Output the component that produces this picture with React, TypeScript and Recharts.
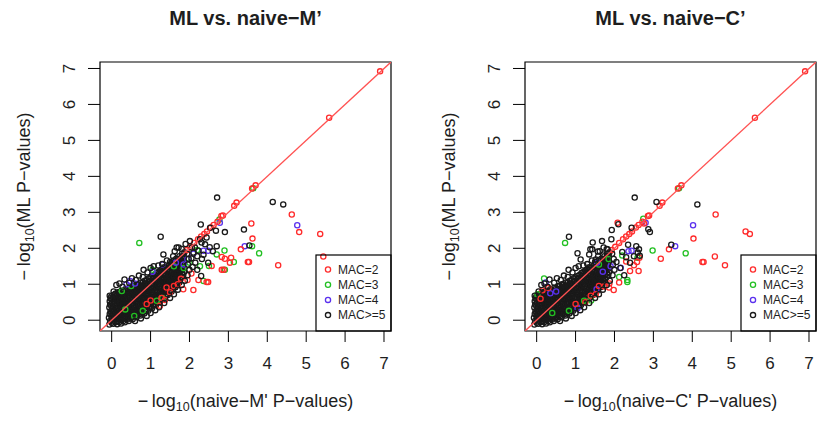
import React from 'react';
import { ScatterChart, Scatter, XAxis, YAxis, ReferenceArea } from 'recharts';

const FONT = "'Liberation Sans', Arial, Helvetica, sans-serif";
const INK = '#1e1e1e';

const axisTicks = [0, 1, 2, 3, 4, 5, 6, 7];
const axisDomain: [number, number] = [-0.3, 7.18];
const macLabels = ['MAC=2', 'MAC=3', 'MAC=4', 'MAC>=5'];
const macColors = ['#ff2b2b', '#22c022', '#5a30ee', '#1a1a1a'];
const lineColor = '#ff5252';

// y = x reference line, corner to corner of the plot region
const diagonal = [
  [-0.3, -0.3],
  [7.18, 7.18],
];

// dense black core near the origin (same in both panels)
const coreCloud = [
  [-0.06, -0.12], [-0.04, -0.02], [-0.07, 0.07], [-0.05, 0.17], [-0.03, 0.25], [-0.06, 0.35], [-0.04, 0.44], [-0.05, 0.53], [-0.03, 0.61],
  [0.04, -0.1], [0.06, -0.01], [0.05, 0.09], [0.03, 0.18], [0.06, 0.27], [0.04, 0.37], [0.05, 0.45], [0.07, 0.55], [0.04, 0.63], [0.06, 0.71],
  [0.14, -0.11], [0.16, -0.03], [0.15, 0.07], [0.13, 0.16], [0.16, 0.26], [0.15, 0.34], [0.14, 0.44], [0.17, 0.53], [0.15, 0.61], [0.14, 0.7], [0.16, 0.78],
  [0.24, -0.09], [0.26, 0.01], [0.25, 0.1], [0.23, 0.19], [0.26, 0.29], [0.24, 0.37], [0.25, 0.47], [0.27, 0.55], [0.24, 0.64], [0.26, 0.73], [0.25, 0.82],
  [0.34, -0.06], [0.36, 0.04], [0.35, 0.12], [0.33, 0.22], [0.36, 0.31], [0.34, 0.41], [0.35, 0.49], [0.37, 0.58], [0.34, 0.68], [0.36, 0.77], [0.35, 0.86],
  [0.44, -0.02], [0.46, 0.07], [0.45, 0.17], [0.43, 0.25], [0.46, 0.35], [0.44, 0.43], [0.45, 0.53], [0.47, 0.62], [0.44, 0.71], [0.46, 0.81], [0.45, 0.9],
  [0.54, 0.03], [0.56, 0.12], [0.55, 0.22], [0.53, 0.3], [0.56, 0.4], [0.54, 0.48], [0.55, 0.58], [0.57, 0.67], [0.54, 0.76], [0.56, 0.86], [0.55, 0.95],
  [0.64, 0.08], [0.66, 0.18], [0.65, 0.26], [0.63, 0.36], [0.66, 0.45], [0.64, 0.54], [0.65, 0.63], [0.67, 0.73], [0.64, 0.82], [0.66, 0.91], [0.65, 1.0],
  [0.74, 0.13], [0.76, 0.22], [0.75, 0.32], [0.73, 0.41], [0.76, 0.49], [0.74, 0.59], [0.75, 0.68], [0.77, 0.77], [0.74, 0.87], [0.76, 0.96], [0.75, 1.05],
  [0.84, 0.19], [0.86, 0.29], [0.85, 0.37], [0.83, 0.47], [0.86, 0.56], [0.84, 0.64], [0.85, 0.74], [0.87, 0.83], [0.84, 0.92], [0.86, 1.02], [0.85, 1.1],
  [0.94, 0.26], [0.96, 0.35], [0.95, 0.45], [0.93, 0.53], [0.96, 0.62], [0.94, 0.72], [0.95, 0.8], [0.97, 0.9], [0.94, 0.98], [0.96, 1.08], [0.95, 1.16],
  [1.04, 0.33], [1.06, 0.43], [1.05, 0.51], [1.03, 0.6], [1.06, 0.7], [1.04, 0.78], [1.05, 0.88], [1.07, 0.96], [1.04, 1.05], [1.06, 1.15], [1.05, 1.23],
  [1.14, 0.42], [1.16, 0.51], [1.15, 0.61], [1.13, 0.69], [1.16, 0.78], [1.14, 0.88], [1.15, 0.96], [1.17, 1.06], [1.14, 1.14], [1.16, 1.23], [1.15, 1.31],
  [1.24, 0.5], [1.26, 0.6], [1.25, 0.68], [1.23, 0.77], [1.26, 0.87], [1.24, 0.95], [1.25, 1.05], [1.27, 1.13], [1.24, 1.22], [1.26, 1.32], [1.25, 1.38],
  [1.34, 0.6], [1.36, 0.69], [1.35, 0.79], [1.33, 0.87], [1.36, 0.96], [1.34, 1.06], [1.35, 1.14], [1.37, 1.24], [1.34, 1.32], [1.36, 1.41], [1.35, 1.47],
  [1.44, 0.7], [1.46, 0.79], [1.45, 0.89], [1.43, 0.97], [1.46, 1.06], [1.44, 1.16], [1.45, 1.24], [1.47, 1.34], [1.44, 1.42], [1.46, 1.51],
  [1.54, 0.8], [1.56, 0.9], [1.55, 0.98], [1.53, 1.07], [1.56, 1.17], [1.54, 1.25], [1.55, 1.35], [1.57, 1.43], [1.54, 1.52], [1.56, 1.6],
  [1.64, 0.92], [1.66, 1.01], [1.65, 1.11], [1.63, 1.19], [1.66, 1.28], [1.64, 1.38], [1.65, 1.46], [1.67, 1.56], [1.64, 1.64], [1.66, 1.71],
  [1.74, 1.05], [1.76, 1.14], [1.75, 1.24], [1.73, 1.32], [1.76, 1.41], [1.74, 1.51], [1.75, 1.59], [1.77, 1.69], [1.74, 1.78],
  [1.84, 1.25], [1.86, 1.34], [1.85, 1.44], [1.83, 1.52], [1.86, 1.61], [1.84, 1.71], [1.85, 1.79], [1.87, 1.89],
];

// second layer of the core, sitting in the gaps of the first
const coreCloudB = [
  [0.0, -0.07], [0.01, 0.03], [-0.01, 0.12], [0.0, 0.22], [0.02, 0.31], [-0.01, 0.4], [0.01, 0.49], [0.0, 0.58], [-0.01, 0.66],
  [0.1, -0.06], [0.11, 0.04], [0.09, 0.12], [0.1, 0.21], [0.12, 0.31], [0.09, 0.39], [0.1, 0.49], [0.11, 0.57], [0.09, 0.66], [0.1, 0.74],
  [0.2, -0.05], [0.21, 0.05], [0.19, 0.14], [0.2, 0.22], [0.22, 0.31], [0.19, 0.41], [0.2, 0.5], [0.21, 0.58], [0.19, 0.68], [0.2, 0.77],
  [0.3, -0.02], [0.31, 0.08], [0.29, 0.16], [0.3, 0.26], [0.32, 0.35], [0.29, 0.44], [0.3, 0.53], [0.31, 0.62], [0.29, 0.71], [0.3, 0.8],
  [0.4, 0.02], [0.41, 0.11], [0.39, 0.2], [0.4, 0.29], [0.42, 0.38], [0.39, 0.47], [0.4, 0.56], [0.41, 0.66], [0.39, 0.75], [0.4, 0.84],
  [0.5, 0.06], [0.51, 0.15], [0.49, 0.25], [0.5, 0.34], [0.52, 0.43], [0.49, 0.52], [0.5, 0.61], [0.51, 0.71], [0.49, 0.8], [0.5, 0.89],
  [0.6, 0.1], [0.61, 0.2], [0.59, 0.29], [0.6, 0.39], [0.62, 0.48], [0.59, 0.57], [0.6, 0.67], [0.61, 0.76], [0.59, 0.85], [0.6, 0.95],
  [0.7, 0.16], [0.71, 0.25], [0.69, 0.34], [0.7, 0.44], [0.72, 0.53], [0.69, 0.62], [0.7, 0.72], [0.71, 0.81], [0.69, 0.9], [0.7, 0.99],
  [0.8, 0.22], [0.81, 0.31], [0.79, 0.41], [0.8, 0.5], [0.82, 0.59], [0.79, 0.69], [0.8, 0.78], [0.81, 0.87], [0.79, 0.96], [0.8, 1.05],
  [0.9, 0.28], [0.91, 0.38], [0.89, 0.47], [0.9, 0.56], [0.92, 0.66], [0.89, 0.75], [0.9, 0.84], [0.91, 0.93], [0.89, 1.02], [0.9, 1.11],
  [1.0, 0.36], [1.01, 0.45], [0.99, 0.54], [1.0, 0.64], [1.02, 0.73], [0.99, 0.82], [1.0, 0.91], [1.01, 1.0], [0.99, 1.1], [1.0, 1.19],
  [1.1, 0.44], [1.11, 0.53], [1.09, 0.62], [1.1, 0.71], [1.12, 0.8], [1.09, 0.9], [1.1, 0.99], [1.11, 1.08], [1.09, 1.18], [1.1, 1.26],
  [1.2, 0.52], [1.21, 0.61], [1.19, 0.7], [1.2, 0.8], [1.22, 0.89], [1.19, 0.98], [1.2, 1.08], [1.21, 1.17], [1.19, 1.27], [1.2, 1.34],
  [1.3, 0.6], [1.31, 0.7], [1.29, 0.79], [1.3, 0.88], [1.32, 0.98], [1.29, 1.07], [1.3, 1.16], [1.31, 1.26], [1.29, 1.35], [1.3, 1.42],
  [1.4, 0.71], [1.41, 0.8], [1.39, 0.9], [1.4, 0.99], [1.42, 1.08], [1.39, 1.18], [1.4, 1.27], [1.41, 1.36], [1.39, 1.45],
  [1.5, 0.82], [1.51, 0.91], [1.49, 1.0], [1.5, 1.1], [1.52, 1.19], [1.49, 1.28], [1.5, 1.38], [1.51, 1.47], [1.49, 1.55],
  [1.6, 0.93], [1.61, 1.02], [1.59, 1.12], [1.6, 1.21], [1.62, 1.3], [1.59, 1.4], [1.6, 1.49], [1.61, 1.58], [1.59, 1.66],
  [1.7, 1.05], [1.71, 1.14], [1.69, 1.24], [1.7, 1.33], [1.72, 1.42], [1.69, 1.52], [1.7, 1.61], [1.71, 1.7],
  [1.8, 1.2], [1.81, 1.3], [1.79, 1.39], [1.8, 1.48], [1.82, 1.58], [1.79, 1.67], [1.8, 1.76], [1.81, 1.85],
];

// loose black circles around the edge of the core
const fringeBlack = [
  [-0.05, 0.68], [0.05, 0.8], [0.12, 0.98], [0.2, 1.02], [0.28, 0.93], [0.33, 1.13], [0.45, 1.04], [0.52, 1.17],
  [0.62, 1.12], [0.7, 1.24], [0.8, 1.2], [0.82, 1.4], [0.92, 1.33], [1.0, 1.45], [1.08, 1.5], [1.2, 1.52],
  [1.3, 1.56], [1.42, 1.66], [1.5, 1.62], [1.58, 1.78], [1.62, 1.92], [1.72, 2.02], [1.8, 1.98],
  [0.6, -0.02], [0.75, 0.05], [0.9, 0.12], [1.0, 0.2], [1.12, 0.28], [1.22, 0.36], [1.35, 0.48], [1.5, 0.62],
  [1.6, 0.72], [1.7, 0.85], [1.8, 0.98], [1.88, 1.1], [1.95, 1.25], [2.0, 1.4], [1.96, 1.55], [1.98, 1.7], [1.94, 1.85],
];

// ---- ML vs. naive-M'
const leftMac2 = [
  [6.9, 6.92], [5.59, 5.63], [3.7, 3.75], [3.61, 3.66], [3.21, 3.27], [3.15, 3.18], [2.82, 2.9], [2.86, 2.91],
  [2.72, 2.74], [2.62, 2.65], [2.55, 2.58], [2.45, 2.47], [2.38, 2.4], [2.3, 2.33], [2.22, 2.25], [2.12, 2.15],
  [2.02, 2.04], [1.93, 1.95],
  [4.63, 2.94], [4.82, 2.45], [5.36, 2.4], [5.44, 1.77], [4.28, 1.53], [3.59, 2.69], [3.62, 2.27], [3.32, 1.97],
  [3.5, 1.62], [3.53, 1.62], [3.07, 1.74], [3.04, 1.6], [2.91, 1.71], [2.83, 1.76], [2.83, 1.4], [2.88, 1.4],
  [2.57, 1.51], [2.48, 1.06], [2.23, 1.12], [2.44, 1.06], [2.1, 0.84], [1.84, 0.86],
  [1.37, 0.56], [1.24, 0.4], [1.5, 0.78], [1.41, 0.91], [1.7, 1.0], [1.95, 1.12], [1.6, 0.95], [1.0, 0.55],
  [0.9, 0.45], [1.28, 0.62], [1.78, 1.15], [2.05, 1.3],
];
const leftMac3 = [
  [3.64, 3.67], [2.77, 2.8], [0.71, 2.15], [3.61, 2.06], [3.79, 1.86], [3.14, 1.62], [2.9, 1.94], [2.91, 1.4],
  [2.5, 1.51], [2.27, 1.5], [2.36, 1.09], [2.7, 1.83],
  [0.26, 0.81], [0.5, 0.95], [1.05, 1.4], [1.6, 1.5], [1.85, 1.45], [2.0, 1.6], [0.8, 0.26], [1.16, 0.54],
  [0.58, 0.12], [2.2, 1.95], [1.3, 0.62], [0.35, 0.3],
];
const leftMac4 = [
  [4.77, 2.64], [3.42, 2.06], [2.78, 2.71], [2.36, 1.93], [2.48, 1.93], [1.85, 1.55], [0.47, 1.09], [0.38, 1.0],
  [1.05, 1.35], [1.3, 1.55], [1.65, 1.6], [2.1, 1.85], [1.95, 1.7], [0.6, 1.02],
];
const leftMac5 = [
  [2.71, 3.41], [4.14, 3.29], [4.41, 3.22], [3.4, 2.52], [3.54, 2.08], [2.91, 2.45], [2.68, 2.49], [2.53, 2.57],
  [2.29, 2.66], [1.26, 2.32], [2.3, 1.23], [2.44, 2.3], [2.27, 2.25], [2.06, 2.02], [2.7, 2.06], [2.48, 1.6],
  [2.01, 2.2], [2.14, 2.02], [2.23, 1.93], [2.31, 2.16], [2.4, 2.11], [2.1, 1.88], [2.2, 1.78], [2.05, 1.72],
  [2.32, 1.7], [2.15, 1.6], [2.08, 1.48], [2.2, 1.4], [1.67, 2.02], [1.33, 1.83], [1.9, 2.12], [2.36, 1.82],
  [2.6, 1.92], [2.52, 2.03],
];

// ---- ML vs. naive-C'
const rightMac2 = [
  [6.9, 6.92], [5.61, 5.63], [3.72, 3.75], [3.63, 3.66], [3.23, 3.27], [3.16, 3.18], [2.86, 2.9], [2.89, 2.91],
  [2.76, 2.69], [2.72, 2.74], [2.62, 2.65], [2.55, 2.58], [2.45, 2.47], [2.38, 2.4], [2.3, 2.33], [2.22, 2.25],
  [2.12, 2.15], [2.02, 2.04], [1.93, 1.95], [2.08, 2.71],
  [4.6, 2.94], [4.03, 2.27], [5.37, 2.47], [5.48, 2.4], [4.58, 1.77], [4.84, 1.53], [4.26, 1.62], [4.29, 1.62],
  [3.19, 1.71], [3.4, 1.97], [2.5, 1.53], [2.62, 1.37], [2.58, 1.62], [2.64, 1.74], [2.3, 1.63], [2.4, 1.37],
  [1.98, 0.84], [1.74, 0.94], [1.87, 1.02], [2.12, 1.05], [1.86, 0.91], [1.52, 0.72], [1.39, 0.68], [0.15, 0.83],
  [0.3, 0.9], [1.6, 0.95], [1.25, 0.5], [1.0, 0.45], [0.1, 0.6],
];
const rightMac3 = [
  [3.66, 3.67], [2.74, 2.82], [0.73, 2.15], [2.98, 1.94], [3.83, 1.86], [2.33, 1.06], [2.33, 1.12], [0.83, 0.26],
  [1.22, 0.54], [0.19, 1.16], [0.02, 0.72], [2.2, 1.8], [1.6, 1.55], [2.12, 1.2], [1.85, 1.7], [2.59, 1.74],
  [0.4, 0.2], [1.4, 0.55],
];
const rightMac4 = [
  [4.02, 2.64], [3.56, 2.06], [2.8, 2.71], [1.05, 0.33], [1.54, 0.86], [0.23, 1.05], [0.35, 0.75], [0.5, 0.8],
  [1.55, 1.6], [1.9, 1.5], [2.44, 1.93], [2.36, 1.92], [2.16, 1.46], [1.7, 1.35],
];
const rightMac5 = [
  [2.52, 3.41], [3.08, 3.29], [4.13, 3.22], [3.46, 2.1], [2.87, 2.53], [2.91, 2.45], [2.44, 2.57], [2.1, 2.67],
  [1.93, 2.51], [1.68, 2.2], [1.44, 2.16], [1.38, 1.97], [1.57, 1.91], [0.83, 2.32], [1.05, 1.86], [1.13, 1.69],
  [1.35, 1.83], [1.43, 1.97], [1.52, 1.69], [1.71, 1.83], [1.82, 1.97], [1.92, 2.25], [2.25, 1.25], [2.56, 2.06],
  [2.63, 1.97], [2.65, 1.79], [2.6, 1.88], [2.2, 1.9], [2.3, 1.75], [2.05, 1.62], [2.15, 1.45], [2.35, 2.1],
  [2.5, 1.78], [2.4, 1.6],
];

const toPts = (arr: number[][]) => arr.map(([x, y]) => ({ x, y }));

const ring = (color: string) => (p: any) =>
  p.cx == null ? <g /> : <circle cx={p.cx} cy={p.cy} r={2.6} fill="none" stroke={color} strokeWidth={1.3} />;

const XTick = (p: any) => (
  <text x={p.x} y={p.y} textAnchor="middle" fontSize={17} fontFamily={FONT} fill={INK}>
    {p.payload.value}
  </text>
);

const YTick = (p: any) => (
  <text
    x={p.x}
    y={p.y}
    transform={`rotate(-90 ${p.x} ${p.y})`}
    textAnchor="middle"
    fontSize={17}
    fontFamily={FONT}
    fill={INK}
  >
    {p.payload.value}
  </text>
);

interface PanelProps {
  left: number;
  width: number;
  axisW: number;
  title: string;
  xName: string;
  series: number[][][];
}

const TOP = 62;
const PLOT_W = 291;
const PLOT_BOTTOM = 331;

function Panel({ left, width, axisW, title, xName, series }: PanelProps) {
  const plotL = axisW;
  const plotR = axisW + PLOT_W;
  const cx = plotL + PLOT_W / 2;
  const cy = (TOP + PLOT_BOTTOM) / 2;
  const legX = plotR - 75;
  const legY = 255;

  return (
    <div style={{ position: 'absolute', left, top: 0, width, height: 421 }}>
      <ScatterChart
        width={width}
        height={421}
        margin={{ top: TOP, right: width - plotR, bottom: 0, left: 0 }}
      >
        <XAxis
          type="number"
          dataKey="x"
          domain={axisDomain}
          ticks={axisTicks}
          allowDataOverflow
          height={421 - PLOT_BOTTOM}
          axisLine={false}
          tickLine={{ stroke: '#000' }}
          tickSize={11}
          tickMargin={27}
          tick={<XTick />}
        />
        <YAxis
          type="number"
          dataKey="y"
          domain={axisDomain}
          ticks={axisTicks}
          allowDataOverflow
          width={axisW}
          axisLine={false}
          tickLine={{ stroke: '#000' }}
          tickSize={12}
          tickMargin={13}
          tick={<YTick />}
        />
        <ReferenceArea
          x1={axisDomain[0]}
          x2={axisDomain[1]}
          y1={axisDomain[0]}
          y2={axisDomain[1]}
          fill="none"
          fillOpacity={0}
          stroke="#000"
          strokeWidth={1.2}
        />
        <Scatter data={toPts(coreCloud)} shape={ring(macColors[3])} isAnimationActive={false} />
        <Scatter data={toPts(coreCloudB)} shape={ring(macColors[3])} isAnimationActive={false} />
        <Scatter data={toPts(series[1])} shape={ring(macColors[1])} isAnimationActive={false} />
        <Scatter data={toPts(series[2])} shape={ring(macColors[2])} isAnimationActive={false} />
        <Scatter data={toPts(series[0])} shape={ring(macColors[0])} isAnimationActive={false} />
        <Scatter data={toPts(fringeBlack)} shape={ring(macColors[3])} isAnimationActive={false} />
        <Scatter data={toPts(series[3])} shape={ring(macColors[3])} isAnimationActive={false} />
        <Scatter
          data={toPts(diagonal)}
          line={{ stroke: lineColor, strokeWidth: 1.3 }}
          shape={() => <g />}
          isAnimationActive={false}
        />
      </ScatterChart>

      <svg
        width={width}
        height={421}
        style={{ position: 'absolute', left: 0, top: 0, pointerEvents: 'none' }}
        fontFamily={FONT}
        fill={INK}
      >
        <text x={cx} y={25} textAnchor="middle" fontSize={20} fontWeight="bold">
          {title}
        </text>
        <text x={cx} y={407} textAnchor="middle" fontSize={18}>
          {'\u2212\u2009log'}
          <tspan fontSize={12.5} dy={4}>10</tspan>
          <tspan dy={-4}>{`(${xName} P\u2212values)`}</tspan>
        </text>
        <text transform={`translate(${axisW - 70.5},${cy}) rotate(-90)`} textAnchor="middle" fontSize={18}>
          {'\u2212\u2009log'}
          <tspan fontSize={12.5} dy={4}>10</tspan>
          <tspan dy={-4}>{'(ML P\u2212values)'}</tspan>
        </text>

        <rect x={legX} y={legY} width={75} height={PLOT_BOTTOM - legY} fill="none" stroke="#000" strokeWidth={1.2} />
        {macLabels.map((lab, i) => (
          <g key={lab}>
            <circle cx={legX + 12} cy={269.5 + i * 15.2} r={2.6} fill="none" stroke={macColors[i]} strokeWidth={1.3} />
            <text x={legX + 22} y={269.5 + i * 15.2 + 4.3} fontSize={12}>
              {lab}
            </text>
          </g>
        ))}
      </svg>
    </div>
  );
}

export default function App() {
  return (
    <div style={{ position: 'absolute', left: 0, top: 0, width: 817, height: 421, background: '#fff', overflow: 'hidden' }}>
      <Panel
        left={0}
        width={408}
        axisW={100}
        title={'ML vs. naive\u2212M\u2019'}
        xName={"naive\u2212M'"}
        series={[leftMac2, leftMac3, leftMac4, leftMac5]}
      />
      <Panel
        left={408}
        width={409}
        axisW={117}
        title={'ML vs. naive\u2212C\u2019'}
        xName={"naive\u2212C'"}
        series={[rightMac2, rightMac3, rightMac4, rightMac5]}
      />
    </div>
  );
}
